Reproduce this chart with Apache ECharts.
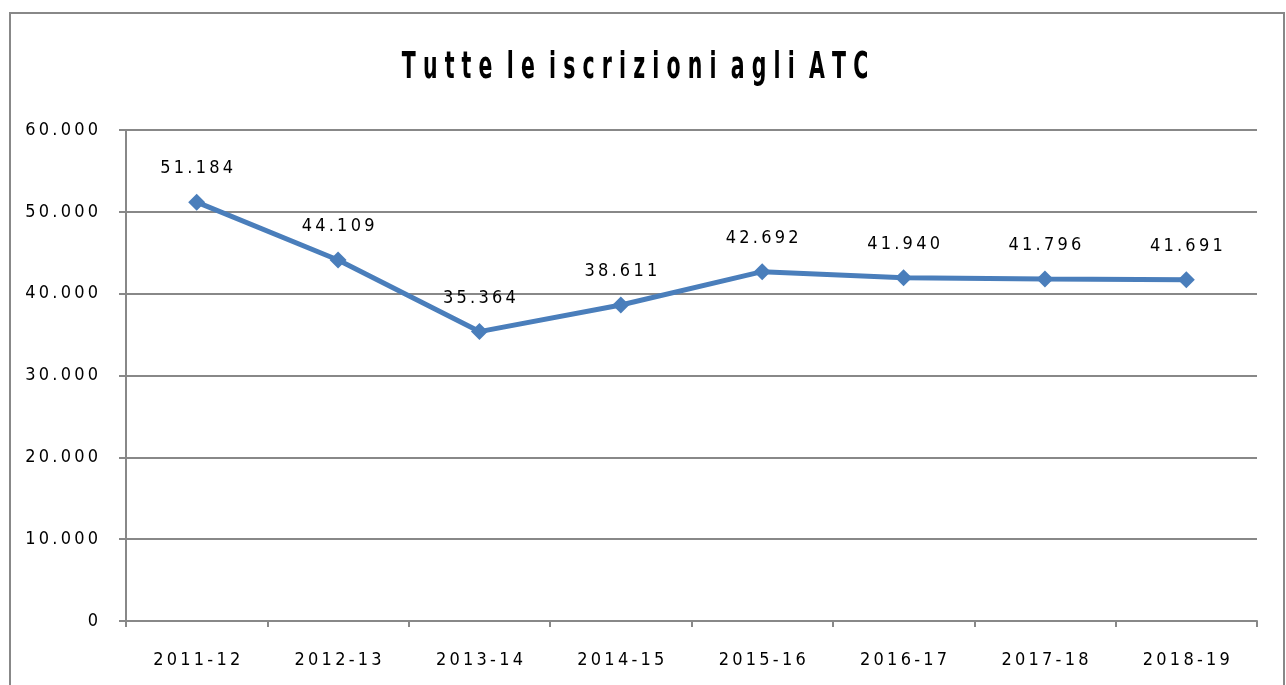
<!DOCTYPE html>
<html><head><meta charset="utf-8">
<script src="https://cdn.jsdelivr.net/npm/echarts@6/dist/echarts.min.js"></script>
<style>html,body{margin:0;padding:0;background:#fff}#c{width:1286px;height:685px}</style>
</head><body><div id="c"></div>
<script>
const titleText = "Tutte le iscrizioni agli ATC";
const categories = ["2011-12","2012-13","2013-14","2014-15","2015-16","2016-17","2017-18","2018-19"];
const values = [51184, 44109, 35364, 38611, 42692, 41940, 41796, 41691];
const yTicks = [0, 10000, 20000, 30000, 40000, 50000, 60000];

const FONT = '"DejaVu Sans Condensed","Liberation Sans Narrow",sans-serif';
function spaced(s){ return s.split('').join('\u2009'); }
function titleSpaced(s){ return s.split(' ').map(w=>w.split('').join(' ')).join('  '); }
function itFmt(v){ return String(v).replace(/\B(?=(\d{3})+(?!\d))/g, '.'); }

const chart = echarts.init(document.getElementById('c'));
chart.setOption({
  animation:false,
  backgroundColor:'#fff',
  graphic:[
    { type:'rect', shape:{x:10,y:13,width:1274,height:700}, style:{fill:null, stroke:'#888', lineWidth:2}, silent:true },
    { type:'text', x:635, y:68, scaleX:0.6, style:{ text: titleSpaced(titleText), font:'bold 38px ' + FONT, fill:'#000', align:'center', verticalAlign:'middle' } }
  ],
  grid:{ left:126, top:130, right:29, bottom:64 },
  xAxis:{ type:'category', data:categories, boundaryGap:true,
    axisLine:{ lineStyle:{ color:'#888', width:2 } },
    axisTick:{ show:true, length:6, lineStyle:{ color:'#888', width:2 } },
    axisLabel:{ margin:30, fontFamily:FONT, fontSize:18, color:'#000', formatter:v=>spaced(v) } },
  yAxis:{ type:'value', min:0, max:60000, interval:10000,
    axisLine:{ show:true, lineStyle:{ color:'#888', width:2 } },
    axisTick:{ show:true, length:7, lineStyle:{ color:'#888', width:2 } },
    splitLine:{ lineStyle:{ color:'#888', width:2 } },
    axisLabel:{ margin:28, fontFamily:FONT, fontSize:18, color:'#000', formatter:v=>spaced(itFmt(v)) } },
  series:[{ type:'line', data:values, symbol:'diamond', symbolSize:17,
    lineStyle:{ color:'#4a7ebb', width:5 }, itemStyle:{ color:'#4a7ebb' },
    label:{ show:true, position:'top', distance:16, fontFamily:FONT, fontSize:18, color:'#000',
      formatter:p=>spaced(itFmt(p.value)) } }]
});
</script></body></html>
